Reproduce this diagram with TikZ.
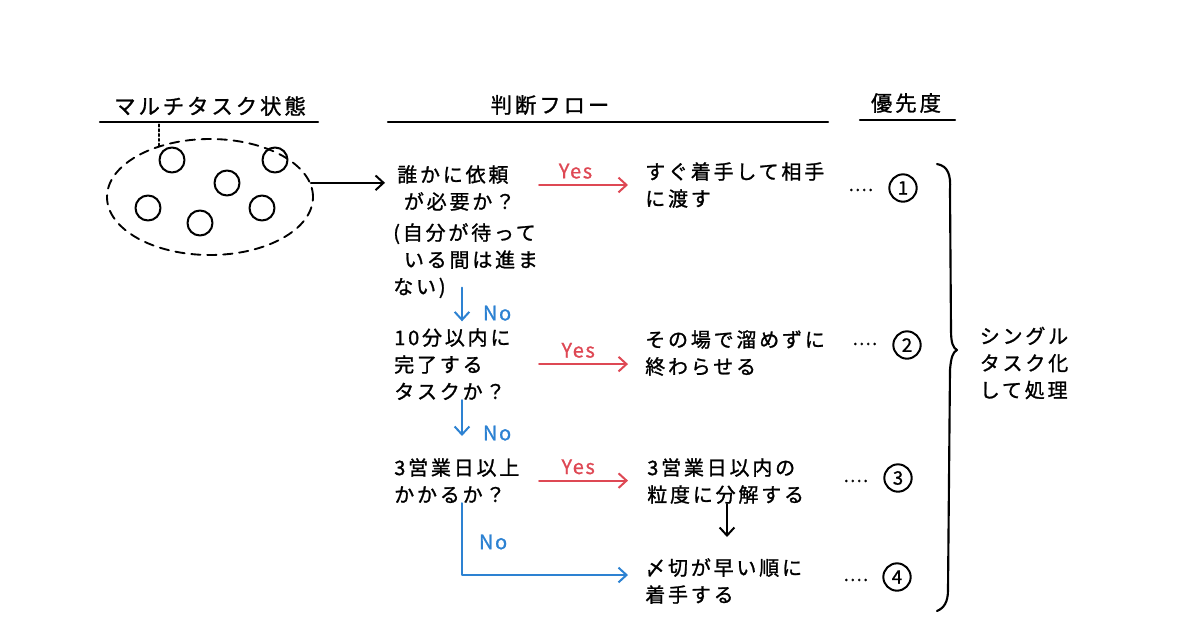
\documentclass[tikz,border=0pt]{standalone}
\usepackage{fontspec}
\newfontfamily\jp{Noto Sans CJK JP}[LetterSpace=14,FakeBold=1.2]
\newfontfamily\jplat{Noto Sans CJK JP}[LetterSpace=8,FakeBold=1.0]
\usetikzlibrary{arrows.meta,shapes.geometric}
\definecolor{hred}{RGB}{222,72,84}
\definecolor{hblue}{RGB}{45,130,210}
\begin{document}
\begin{tikzpicture}[x=0.75pt,y=-0.75pt,line cap=round,line join=round,
  txt/.style={font=\jp\fontsize{15pt}{20.25pt}\selectfont,align=left,anchor=north west,inner sep=0pt},
  hdr/.style={font=\jp\fontsize{16pt}{18pt}\selectfont,inner sep=0pt},
  lbl/.style={font=\jplat\fontsize{15pt}{16pt}\selectfont,inner sep=0pt},
  dotsx/.style={font=\jplat\fontsize{13.5pt}{16pt}\selectfont,inner sep=0pt,anchor=base},
  numc/.style={circle,draw,line width=1.5pt,minimum size=20.5pt,inner sep=0pt,font=\jplat\fontsize{14pt}{16pt}\selectfont},
  uline/.style={line width=1.8pt},
  tip/.style={-{Straight Barb[length=6pt,width=11pt]}},
  yes/.style={draw=hred,line width=1.5pt,tip},
  no/.style={draw=hblue,line width=1.5pt,tip},
  blk/.style={draw=black,line width=1.5pt,tip},
  bubble/.style={line width=1.5pt}]
\useasboundingbox (0,0) rectangle (1200,640);

% headers
\node[hdr] (hm) at (210,106) {マルチタスク状態};
\draw[uline] (100,122) coordinate (hmL) -- (318,122) coordinate (hmR);
\node[hdr] (hf) at (550,105) {判断フロー};
\draw[uline] (388,122) coordinate (hfL) -- (828,122) coordinate (hfR);
\node[hdr] (hp) at (906,103) {優先度};
\draw[uline] (860,120) coordinate (hpL) -- (955,120) coordinate (hpR);

% multitask blob
\node[draw,dashed,dash pattern=on 7pt off 5pt,line width=1.4pt,ellipse,minimum width=154.5pt,minimum height=87pt] (blob) at (210,197) {};
\draw[dotted,line width=1.6pt] (blob.135) -- (blob.135 |- hmL);
\foreach \p in {(172,160),(275,160),(227,183),(148,208),(200,223),(262,208)}
  \draw[bubble] \p circle[radius=12.5];

% column coordinates
\coordinate (yl) at (539,0);
\coordinate (yr) at (628,0);
\coordinate (nx) at (462,0);
\coordinate (dx) at (727,0);

% questions
\node[txt] (q1) at (397,165) {誰かに依頼\\\hspace{5pt}が必要か？};
\node[txt] (q1n) at (393,223) {(自分が待って\\\hspace{8pt}いる間は進ま\\ない)};
\node[txt] (q2) at (394,328) {10分以内に\\完了する\\タスクか？};
\node[txt] (q3) at (394,458) {3営業日以上\\かかるか？};

% results
\node[txt] (r1) at (645,162) {すぐ着手して相手\\に渡す};
\node[txt] (r2) at (645,330) {その場で溜めずに\\終わらせる};
\node[txt] (r3) at (647,458) {3営業日以内の\\粒度に分解する};
\node[txt] (r4) at (645,558) {〆切が早い順に\\着手する};

% dots and priorities
\node[dotsx] (d1) at (861,191) {....};
\node[dotsx] (d2) at (865,345) {....};
\node[dotsx] (d3) at (856,482) {....};
\node[dotsx] (d4) at (856,581) {....};
\node[numc] (p1) at (903,188) {1};
\node[numc] (p2) at (907,345) {2};
\node[numc] (p3) at (898,478) {3};
\node[numc] (p4) at (897,577) {4};

% connectors
\draw[blk,shorten >=9pt] (blob.8) -- (blob.8 -| q1.west);
\draw[yes] (r1.west -| yl) -- node[lbl,text=hred,above=4pt,xshift=-6pt] {Yes} (r1.west -| yr);
\draw[yes] (q2.east -| yl) -- node[lbl,text=hred,above=4pt,xshift=-4pt] {Yes} (q2.east -| yr);
\draw[yes] (q3.east -| yl) -- node[lbl,text=hred,above=4pt,xshift=-4pt] {Yes} (q3.east -| yr);
\draw[no,shorten <=-8pt,shorten >=5pt] (q1n.south -| nx) -- node[lbl,text=hblue,right=15pt] {No} (q2.north -| nx);
\draw[no,shorten >=16.5pt] (q2.south -| nx) -- node[lbl,text=hblue,right=15pt,yshift=-3pt] {No} (q3.north -| nx);
\draw[no] (q3.south -| nx) |- node[pos=0.27,lbl,text=hblue,right=12pt] {No} ([yshift=4.5pt]r4.west -| yr);
\draw[blk,shorten >=15.75pt] (r3.south -| dx) -- (r4.north -| dx);

% brace
\draw[line width=1.6pt] (937,164) .. controls (948,166) and (951,175) .. (950,190)
  -- (951,330) .. controls (951,343) and (953,348) .. (957,350)
  .. controls (953,352) and (951,357) .. (950,370)
  -- (948,590) .. controls (948,602) and (944,608) .. (937,611);
\node[txt,anchor=center] (st) at (1024,363) {シングル\\タスク化\\して処理};
\end{tikzpicture}
\end{document}
